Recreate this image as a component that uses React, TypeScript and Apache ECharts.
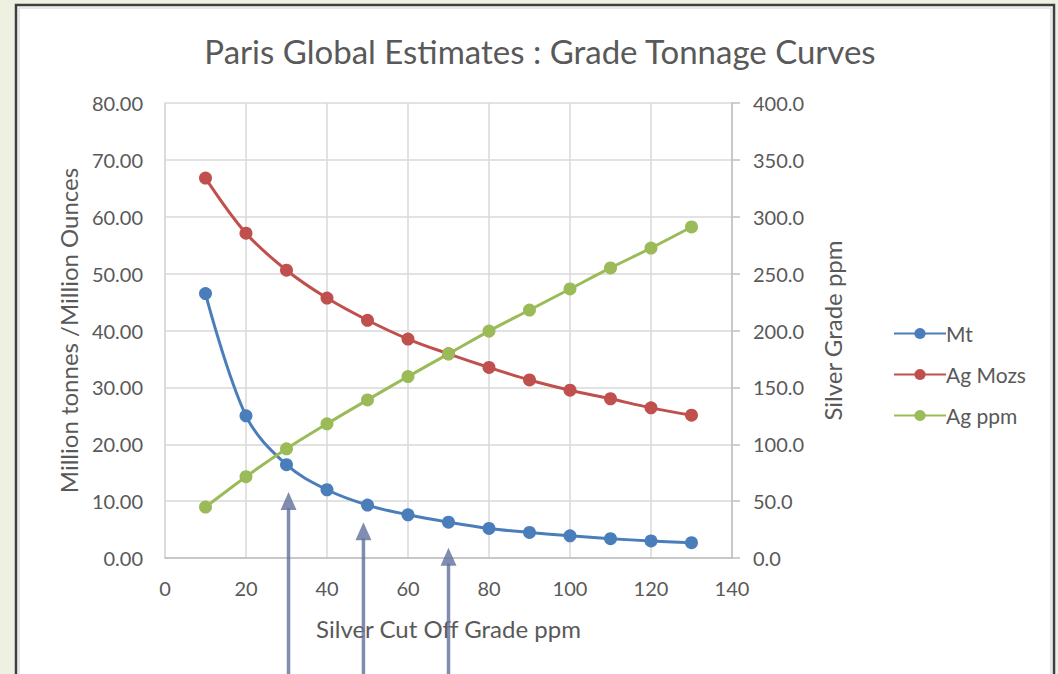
import React, { useEffect, useRef } from "react";
import * as echarts from "echarts";

const cutOff = [10, 20, 30, 40, 50, 60, 70, 80, 90, 100, 110, 120, 130];
const mt = [46.5, 25.0, 16.4, 12.0, 9.3, 7.6, 6.3, 5.2, 4.5, 3.9, 3.4, 3.0, 2.7];
const agMozs = [66.8, 57.1, 50.6, 45.7, 41.8, 38.5, 35.9, 33.5, 31.3, 29.5, 28.0, 26.4, 25.1];
const agPpm = [44.8, 71.5, 96, 118, 139, 159.5, 179.5, 199.5, 218, 236.5, 255, 272.5, 291];
const arrowX = [30.5, 49, 70];
const arrowTipY = [11.6, 6.3, 1.8];

const FONT = "Lato, 'Open Sans', sans-serif";
const TXT = "#595959";

export default function App() {
  const ref = useRef<HTMLDivElement>(null);
  useEffect(() => {
    const chart = echarts.init(ref.current!, null, { renderer: "svg" });
    const mk = (name: string, data: number[], color: string, yAxisIndex: number) => ({
      name,
      type: "line",
      yAxisIndex,
      smooth: 0.35,
      symbol: "circle",
      symbolSize: 13,
      lineStyle: { width: 3, color },
      itemStyle: { color },
      data: cutOff.map((x, i) => [x, data[i]]),
    });
    chart.setOption({
      animation: false,
      backgroundColor: "#eef1e2",
      textStyle: { fontFamily: FONT },
      title: {
        text: "Paris Global Estimates : Grade Tonnage Curves",
        left: 535,
        textAlign: "center",
        top: 29,
        textStyle: { fontSize: 33, fontWeight: "normal", color: TXT, fontFamily: FONT },
      },
      legend: {
        orient: "vertical",
        left: 888,
        top: 318,
        itemGap: 20,
        itemWidth: 52,
        itemHeight: 14,
        textStyle: { fontSize: 21, color: TXT, fontFamily: FONT, padding: [0, 0, 0, -5] },
        data: ["Mt", "Ag Mozs", "Ag ppm"],
      },
      grid: { left: 165, right: 326, top: 103, bottom: 116 },
      xAxis: {
        type: "value",
        min: 0,
        max: 140,
        interval: 20,
        name: "Silver Cut Off Grade ppm",
        nameLocation: "middle",
        nameGap: 58,
        nameTextStyle: { fontSize: 24, color: TXT, fontFamily: FONT },
        axisLine: { show: true, lineStyle: { color: "#bfbfbf", width: 1.5 } },
        axisTick: { show: false },
        axisLabel: { fontSize: 20, color: TXT, margin: 20, fontFamily: FONT },
        splitLine: { show: true, lineStyle: { color: "#d9d9d9", width: 1.5 } },
      },
      yAxis: [
        {
          type: "value",
          min: 0,
          max: 80,
          interval: 10,
          name: "Million tonnes /Million Ounces",
          nameLocation: "middle",
          nameGap: 84,
          nameTextStyle: { fontSize: 24, color: TXT, fontFamily: FONT },
          axisLine: { show: true, lineStyle: { color: "#d9d9d9", width: 1.5 } },
          axisTick: { show: false },
          axisLabel: { fontSize: 20, color: TXT, margin: 22, fontFamily: FONT, formatter: (v: number) => v.toFixed(2) },
          splitLine: { show: true, lineStyle: { color: "#d9d9d9", width: 1.5 } },
        },
        {
          type: "value",
          min: 0,
          max: 400,
          interval: 50,
          position: "right",
          name: "Silver Grade ppm",
          nameLocation: "middle",
          nameGap: 88,
          nameRotate: 90,
          nameTextStyle: { fontSize: 24, color: TXT, fontFamily: FONT },
          axisLine: { show: true, lineStyle: { color: "#bfbfbf", width: 1.5 } },
          axisTick: { show: true, length: 8, lineStyle: { color: "#bfbfbf", width: 1.5 } },
          axisLabel: { fontSize: 20, color: TXT, margin: 21, fontFamily: FONT, formatter: (v: number) => v.toFixed(1) },
          splitLine: { show: false },
        },
      ],
      series: [
        mk("Mt", mt, "#4a7ebb", 0),
        mk("Ag Mozs", agMozs, "#c0504d", 0),
        mk("Ag ppm", agPpm, "#9bbb59", 1),
      ],
    });

    const arrowColor = "rgba(100,116,160,0.82)";
    const arrows: any[] = [];
    arrowX.forEach((x, i) => {
      const p = chart.convertToPixel({ gridIndex: 0 }, [x, arrowTipY[i]]) as number[];
      const px = p[0];
      const py = p[1];
      arrows.push({
        type: "line",
        z: 100,
        shape: { x1: px, y1: py + 16, x2: px, y2: 700 },
        style: { stroke: arrowColor, lineWidth: 3.5 },
      });
      arrows.push({
        type: "polygon",
        z: 100,
        shape: { points: [[px, py], [px - 8, py + 18], [px + 8, py + 18]] },
        style: { fill: arrowColor },
      });
    });
    chart.setOption({
      graphic: [
        {
          type: "rect",
          z: -10,
          silent: true,
          shape: { x: 16, y: 5, width: 1038, height: 720 },
          style: { fill: "#ffffff", stroke: "#3f3f3f", lineWidth: 2.5 },
        },
        {
          type: "rect",
          z: -9,
          silent: true,
          shape: { x: 19, y: 8, width: 1032, height: 720 },
          style: { fill: "none", stroke: "#d0d0d0", lineWidth: 1 },
        },
        ...arrows,
      ],
    });
    return () => chart.dispose();
  }, []);
  return (
    <div style={{ position: "fixed", left: 0, top: 0, width: 1058, height: 674 }}>
      <div ref={ref} style={{ width: 1058, height: 674 }} />
    </div>
  );
}
